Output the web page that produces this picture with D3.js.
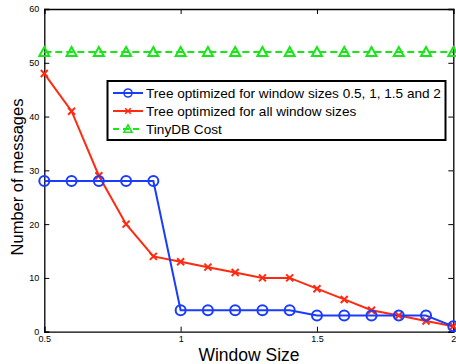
<!DOCTYPE html>
<html>
<head>
<meta charset="utf-8">
<script src="https://cdn.jsdelivr.net/npm/d3@7"></script>
<style>
  body { margin: 0; background: #fff; }
  svg { display: block; font-family: "Liberation Sans", Arial, sans-serif; }
</style>
</head>
<body>
<svg id="chart" width="456" height="364"></svg>
<script>
// window sizes (x) and message counts for each series
var windowSizes = [0.5, 0.6, 0.7, 0.8, 0.9, 1.0, 1.1, 1.2, 1.3, 1.4, 1.5, 1.6, 1.7, 1.8, 1.9, 2.0];
var treeSelected = [28, 28, 28, 28, 28, 4, 4, 4, 4, 4, 3, 3, 3, 3, 3, 1];
var treeAll = [48, 41, 29, 20, 14, 13, 12, 11, 10, 10, 8, 6, 4, 3, 2, 1];
var tinyDb = [52, 52, 52, 52, 52, 52, 52, 52, 52, 52, 52, 52, 52, 52, 52, 52];
var xTicks = [0.5, 1, 1.5, 2];
var yTicks = [0, 10, 20, 30, 40, 50, 60];
var legendLabels = ["Tree optimized for window sizes 0.5, 1, 1.5 and 2",
                    "Tree optimized for all window sizes",
                    "TinyDB Cost"];

var svg = d3.select("#chart");
var margin = {"left": 44.3, "right": 2.7, "top": 9, "bottom": 32.3};
var width = 456, height = 364;

var xScale = d3.scaleLinear()
               .domain([0.5, 2])
               .range([margin.left, width - margin.right]);
var yScale = d3.scaleLinear()
               .domain([0, 60])
               .range([height - margin.bottom, margin.top]);

var blue = "#1a3cff", red = "#ff2a10", green = "#19e619";

// axes with inward ticks, like matlab
var tickLen = 5;
var gx = svg.append("g")
  .attr("transform", "translate(0," + yScale(0) + ")")
  .call(d3.axisBottom(xScale).tickValues(xTicks).tickSize(-tickLen).tickPadding(5)
          .tickFormat(function(d) { return d3.format("")(d); }));
var gxTop = svg.append("g")
  .attr("transform", "translate(0," + yScale(60) + ")")
  .call(d3.axisTop(xScale).tickValues(xTicks).tickSize(-tickLen).tickFormat(""));
var gy = svg.append("g")
  .attr("transform", "translate(" + xScale(0.5) + ",0)")
  .call(d3.axisLeft(yScale).tickValues(yTicks).tickSize(-tickLen).tickPadding(5));
var gyRight = svg.append("g")
  .attr("transform", "translate(" + xScale(2) + ",0)")
  .call(d3.axisRight(yScale).tickValues(yTicks).tickSize(-tickLen).tickFormat(""));

[gx, gxTop, gy, gyRight].forEach(function(g) {
  g.select(".domain").attr("stroke", "#000").attr("stroke-width", 1.3);
  g.selectAll(".tick line").attr("stroke", "#000");
  g.selectAll("text").style("font-size", "9px").style("fill", "#000")
   .style("font-family", "'Liberation Sans', Arial, sans-serif");
});
gx.selectAll("text").attr("dy", "0.6em");

// axis labels
svg.append("text")
   .attr("x", 249).attr("y", 361)
   .attr("text-anchor", "middle")
   .style("font-size", "17.5px")
   .text("Window Size");
svg.append("text")
   .attr("transform", "translate(23," + 177 + ") rotate(-90)")
   .attr("text-anchor", "middle")
   .style("font-size", "16.5px")
   .text("Number of messages");

var line = d3.line()
  .x(function(d) { return xScale(d[0]); })
  .y(function(d) { return yScale(d[1]); });

function pairs(values) {
  return windowSizes.map(function(x, i) { return [x, values[i]]; });
}

var plot = svg.append("g");

// TinyDB cost
plot.append("path")
    .datum(pairs(tinyDb))
    .attr("d", line)
    .attr("fill", "none").attr("stroke", green)
    .attr("stroke-width", 2).attr("stroke-dasharray", "7,4");

// tree optimised for all window sizes
plot.append("path")
    .datum(pairs(treeAll))
    .attr("d", line)
    .attr("fill", "none").attr("stroke", red).attr("stroke-width", 2);

// tree optimised for selected window sizes
plot.append("path")
    .datum(pairs(treeSelected))
    .attr("d", line)
    .attr("fill", "none").attr("stroke", blue).attr("stroke-width", 2);

function triangle(sel) {
  sel.append("path")
     .attr("d", "M0,-5L5,4L-5,4Z")
     .attr("fill", "none").attr("stroke", green).attr("stroke-width", 2);
}
function cross(sel) {
  sel.append("path")
     .attr("d", "M-3.5,-3.5L3.5,3.5M-3.5,3.5L3.5,-3.5")
     .attr("fill", "none").attr("stroke", red).attr("stroke-width", 2);
}
function circle(sel) {
  sel.append("circle")
     .attr("r", 5)
     .attr("fill", "none").attr("stroke", blue).attr("stroke-width", 2);
}

plot.selectAll("g.tri").data(pairs(tinyDb)).enter().append("g")
    .attr("transform", function(d) { return "translate(" + xScale(d[0]) + "," + yScale(d[1]) + ")"; })
    .call(triangle);
plot.selectAll("g.crs").data(pairs(treeAll)).enter().append("g")
    .attr("transform", function(d) { return "translate(" + xScale(d[0]) + "," + yScale(d[1]) + ")"; })
    .call(cross);
plot.selectAll("g.cir").data(pairs(treeSelected)).enter().append("g")
    .attr("transform", function(d) { return "translate(" + xScale(d[0]) + "," + yScale(d[1]) + ")"; })
    .call(circle);

// legend
var legend = svg.append("g");
legend.append("rect")
      .attr("x", 107.5).attr("y", 81).attr("width", 338).attr("height", 59)
      .attr("fill", "#fff").attr("stroke", "#000").attr("stroke-width", 2);

var legendColors = [blue, red, green];
var legendMarks = [circle, cross, triangle];
var rowY = [93, 111, 129];
legendLabels.forEach(function(label, i) {
  var row = legend.append("g").attr("transform", "translate(0," + rowY[i] + ")");
  row.append("line")
     .attr("x1", 113).attr("x2", 143).attr("y1", 0).attr("y2", 0)
     .attr("stroke", legendColors[i]).attr("stroke-width", 2)
     .attr("stroke-dasharray", i == 2 ? "6,4" : null);
  row.append("g").attr("transform", "translate(128,0) scale(0.8)").call(legendMarks[i]);
  row.append("text")
     .attr("x", 146).attr("y", 0).attr("dy", "0.35em")
     .style("font-size", "13.6px")
     .text(label);
});
</script>
</body>
</html>
